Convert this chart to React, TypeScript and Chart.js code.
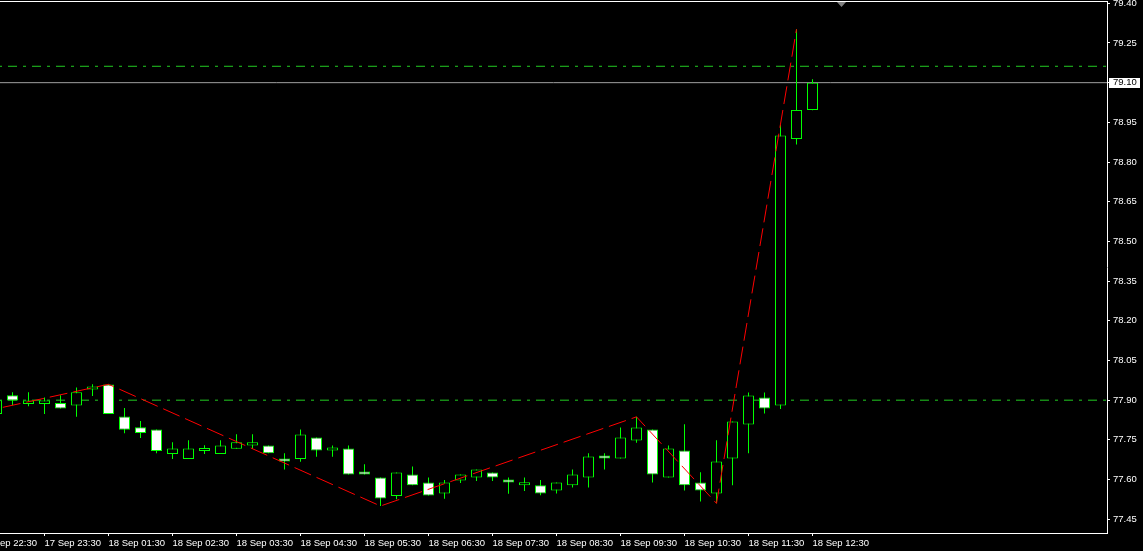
import React, { useEffect, useRef } from "react";
import { Chart, registerables } from "chart.js";

Chart.register(...registerables);

// ---- Data (M15 candles, first one partially off-screen) ----
const opens = [
  77.848, 77.919, 77.886, 77.886, 77.889, 77.88, 77.94, 77.959, 77.838, 77.798,
  77.789, 77.697, 77.678, 77.708, 77.697, 77.716, 77.729, 77.729, 77.68, 77.678,
  77.759, 77.71, 77.717, 77.627, 77.608, 77.538, 77.619, 77.589, 77.547, 77.596,
  77.608, 77.627, 77.596, 77.578, 77.578, 77.559, 77.578, 77.608, 77.687, 77.68,
  77.748, 77.789, 77.608, 77.71, 77.589, 77.547, 77.68, 77.808, 77.91, 77.88,
  78.887, 78.997,
];
const highs = [
  77.905, 77.93, 77.93, 77.91, 77.919, 77.948, 77.96, 77.96, 77.87, 77.821,
  77.789, 77.741, 77.749, 77.73, 77.749, 77.771, 77.771, 77.729, 77.699, 77.789,
  77.759, 77.729, 77.729, 77.658, 77.608, 77.627, 77.649, 77.608, 77.598, 77.619,
  77.638, 77.627, 77.608, 77.608, 77.598, 77.589, 77.638, 77.699, 77.699, 77.797,
  77.837, 77.789, 77.729, 77.809, 77.628, 77.749, 77.819, 77.929, 77.929, 78.94,
  79.302, 79.113,
];
const lows = [
  77.84, 77.881, 77.877, 77.848, 77.869, 77.837, 77.916, 77.848, 77.775, 77.757,
  77.699, 77.678, 77.678, 77.697, 77.697, 77.716, 77.716, 77.699, 77.638, 77.667,
  77.686, 77.686, 77.619, 77.619, 77.5, 77.526, 77.578, 77.54, 77.527, 77.587,
  77.595, 77.595, 77.546, 77.557, 77.541, 77.547, 77.57, 77.57, 77.638, 77.68,
  77.739, 77.589, 77.608, 77.559, 77.517, 77.51, 77.578, 77.699, 77.85, 77.867,
  78.866, 78.996,
];
const closes = [
  77.9, 77.899, 77.899, 77.899, 77.869, 77.93, 77.949, 77.848, 77.788, 77.776,
  77.708, 77.717, 77.717, 77.717, 77.729, 77.741, 77.741, 77.699, 77.668, 77.77,
  77.71, 77.717, 77.619, 77.619, 77.528, 77.627, 77.578, 77.54, 77.589, 77.619,
  77.638, 77.608, 77.589, 77.589, 77.547, 77.589, 77.619, 77.687, 77.68, 77.759,
  77.797, 77.619, 77.717, 77.578, 77.559, 77.668, 77.819, 77.918, 77.869, 78.9,
  78.997, 79.1,
];
const firstBar = -1;

const tickBars = [-2, 2, 6, 10, 14, 18, 22, 26, 30, 34, 38, 42, 46, 50];
const tickLabels = [
  "17 Sep 22:30", "17 Sep 23:30", "18 Sep 01:30", "18 Sep 02:30", "18 Sep 03:30",
  "18 Sep 04:30", "18 Sep 05:30", "18 Sep 06:30", "18 Sep 07:30", "18 Sep 08:30",
  "18 Sep 09:30", "18 Sep 10:30", "18 Sep 11:30", "18 Sep 12:30",
];
const yTicks = [
  77.45, 77.6, 77.75, 77.9, 78.05, 78.2, 78.35, 78.5, 78.65, 78.8, 78.95, 79.1, 79.25, 79.4,
];

const levelValues = [79.162, 77.9];
const zigzagBars = [-5, 6, 23, 39, 44, 49];
const zigzagValues = [77.815, 77.96, 77.5, 77.837, 77.51, 79.302];
const bidPrice = 79.1;
const shiftMarkerBar = 51.78;

// ---- Scale bounds ----
const X_MIN = -0.78125;
const X_MAX = 68.40625;
const Y_MIN = 77.398;
const Y_MAX = 79.4087;

const FONT = '"Liberation Sans", Arial, sans-serif';
const GREEN = "#00ff00";

const mt4Plugin = {
  id: "mt4",
  beforeDraw(chart: any) {
    const { ctx, width, height } = chart;
    ctx.save();
    ctx.fillStyle = "#000";
    ctx.fillRect(0, 0, width, height);
    ctx.restore();
  },
  afterDraw(chart: any) {
    const { ctx, chartArea } = chart;
    const x = chart.scales.x;
    const y = chart.scales.y;
    ctx.save();
    // top frame line
    ctx.strokeStyle = "#fff";
    ctx.lineWidth = 1;
    ctx.beginPath();
    ctx.moveTo(chartArea.left, chartArea.top + 0.5);
    ctx.lineTo(chartArea.right + 1, chartArea.top + 0.5);
    ctx.stroke();
    // chart shift marker
    const sx = Math.round(x.getPixelForValue(shiftMarkerBar));
    ctx.fillStyle = "#808080";
    ctx.beginPath();
    ctx.moveTo(sx - 4, chartArea.top + 1);
    ctx.lineTo(sx + 5, chartArea.top + 1);
    ctx.lineTo(sx + 0.5, chartArea.top + 6);
    ctx.closePath();
    ctx.fill();
    // bid price label
    const py = y.getPixelForValue(bidPrice);
    ctx.fillStyle = "#fff";
    ctx.fillRect(chartArea.right + 2, Math.round(py) - 5, 31, 10);
    ctx.fillStyle = "#000";
    ctx.font = `9.5px ${FONT}`;
    ctx.textBaseline = "middle";
    ctx.textAlign = "left";
    ctx.fillText(bidPrice.toFixed(2), chartArea.right + 6, py);
    ctx.restore();
  },
};

export default function App() {
  const ref = useRef<HTMLCanvasElement>(null);

  useEffect(() => {
    const xs = opens.map((_, i) => i + firstBar);
    const bodies = xs.map((k, i) => ({
      x: k,
      y: [Math.min(opens[i], closes[i]), Math.max(opens[i], closes[i])],
    }));
    const bodyColors = xs.map((_, i) => (closes[i] >= opens[i] ? "#000000" : "#ffffff"));
    const wicks = xs.map((k, i) => ({ x: k, y: [lows[i], highs[i]] }));

    const datasets: any[] = [
      {
        type: "line",
        data: zigzagBars.map((b, i) => ({ x: b, y: zigzagValues[i] })),
        borderColor: "#ff0000",
        borderWidth: 1,
        borderDash: [18, 6],
        pointRadius: 0,
        fill: false,
        tension: 0,
        order: 0,
      },
      {
        type: "bar",
        data: bodies,
        backgroundColor: bodyColors,
        borderColor: GREEN,
        borderWidth: 1,
        borderSkipped: false,
        barThickness: 11,
        minBarLength: 3,
        grouped: false,
        inflateAmount: 0,
        order: 1,
      },
      {
        type: "bar",
        data: wicks,
        backgroundColor: GREEN,
        borderWidth: 0,
        barThickness: 1,
        grouped: false,
        inflateAmount: 0,
        order: 2,
      },
      ...levelValues.map((lv) => ({
        type: "line",
        data: [
          { x: X_MIN - 1, y: lv },
          { x: X_MAX + 1, y: lv },
        ],
        borderColor: "#22cc22",
        borderWidth: 1,
        borderDash: [9, 6, 3, 6],
        pointRadius: 0,
        fill: false,
        order: 3,
      })),
      {
        type: "line",
        data: [
          { x: X_MIN - 1, y: bidPrice },
          { x: X_MAX + 1, y: bidPrice },
        ],
        borderColor: "#a0a0a0",
        borderWidth: 1,
        pointRadius: 0,
        fill: false,
        order: 4,
      },
    ];

    const chart = new Chart(ref.current as HTMLCanvasElement, {
      type: "bar",
      data: { datasets },
      options: {
        responsive: false,
        animation: false,
        devicePixelRatio: 1,
        events: [],
        layout: { padding: { top: 1, left: 0, right: 0, bottom: 0 } },
        plugins: {
          legend: { display: false },
          tooltip: { enabled: false },
          title: { display: false },
        },
        scales: {
          x: {
            type: "linear",
            position: "bottom",
            min: X_MIN,
            max: X_MAX,
            bounds: "data",
            offset: false,
            grid: {
              display: true,
              drawOnChartArea: false,
              drawTicks: true,
              tickLength: 3,
              color: "#ffffff",
              offset: false,
            },
            border: { display: true, color: "#ffffff", width: 1 },
            ticks: {
              autoSkip: false,
              maxRotation: 0,
              minRotation: 0,
              align: "start",
              padding: 2,
              color: "#ffffff",
              font: { family: FONT, size: 9.5 },
              callback: (_v: any, i: number) => tickLabels[i],
            },
            afterBuildTicks: (s: any) => {
              s.ticks = tickBars.map((v) => ({ value: v }));
            },
            afterFit: (s: any) => {
              s.height = 18;
              s.paddingLeft = 0;
              s.paddingRight = 0;
            },
          },
          y: {
            type: "linear",
            position: "right",
            min: Y_MIN,
            max: Y_MAX,
            bounds: "data",
            grid: {
              display: true,
              drawOnChartArea: false,
              drawTicks: true,
              tickLength: 3,
              color: "#ffffff",
            },
            border: { display: true, color: "#ffffff", width: 1 },
            ticks: {
              autoSkip: false,
              padding: 3,
              color: "#ffffff",
              font: { family: FONT, size: 9.5 },
              callback: (v: any) => Number(v).toFixed(2),
            },
            afterBuildTicks: (s: any) => {
              s.ticks = yTicks.map((v) => ({ value: v }));
            },
            afterFit: (s: any) => {
              s.width = 36;
              s.paddingTop = 0;
              s.paddingBottom = 0;
            },
          },
        },
      } as any,
      plugins: [mt4Plugin],
    } as any);
    return () => chart.destroy();
  }, []);

  return (
    <div
      style={{
        position: "fixed",
        left: 0,
        top: 0,
        width: 1143,
        height: 551,
        background: "#000",
      }}
    >
      <canvas
        ref={ref}
        width={1143}
        height={551}
        style={{ display: "block", width: 1143, height: 551 }}
      />
    </div>
  );
}
